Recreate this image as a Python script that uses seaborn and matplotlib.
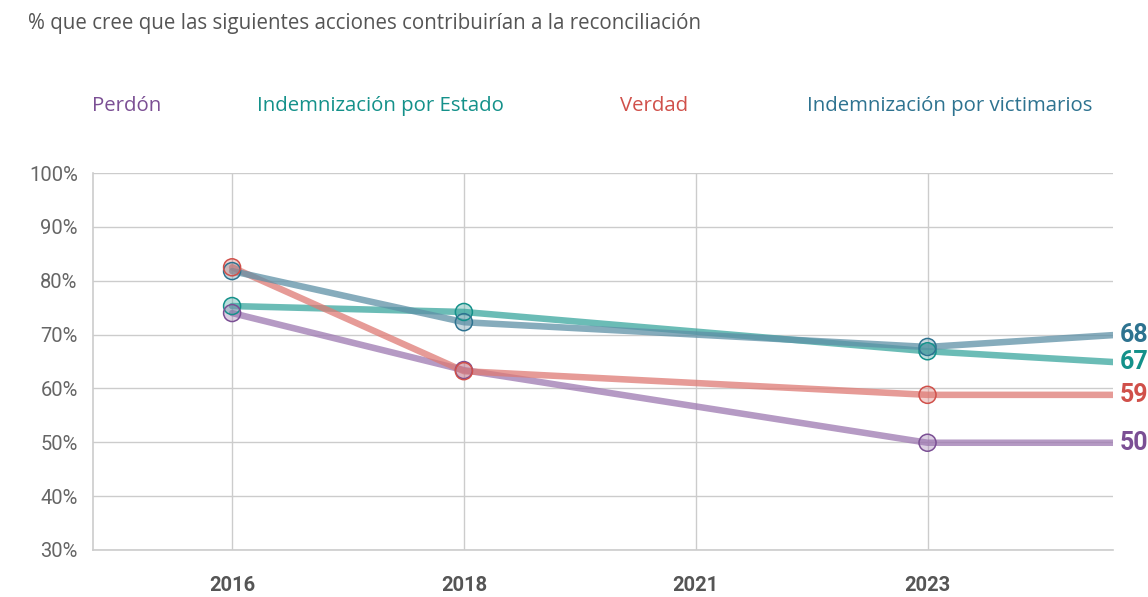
import pandas as pd
import matplotlib.pyplot as plt
import seaborn as sns

# posiciones: 2016, 2018, 2021, 2023 y el extremo derecho de la serie
years = ['2016', '2018', '2021', '2023']
pos = [0, 1, 3, 3.8]

perdon = [74.0, 63.4, 49.9, 49.9]
estado = [75.3, 74.2, 66.9, 64.9]
verdad = [82.5, 63.2, 58.8, 58.8]
victimarios = [81.8, 72.3, 67.7, 69.9]

end_labels = {'Perdón': '50', 'Indemnización por Estado': '67',
              'Verdad': '59', 'Indemnización por victimarios': '68'}

series = {'Perdón': perdon, 'Indemnización por Estado': estado,
          'Verdad': verdad, 'Indemnización por victimarios': victimarios}
line_col = {'Perdón': '#9d78b0', 'Indemnización por Estado': '#3aa69e',
            'Verdad': '#de7a74', 'Indemnización por victimarios': '#5e90a6'}
text_col = {'Perdón': '#7b4f94', 'Indemnización por Estado': '#14918a',
            'Verdad': '#d0504a', 'Indemnización por victimarios': '#2e7390'}

rows = []
for name, vals in series.items():
    for p, v in zip(pos, vals):
        rows.append({'serie': name, 'x': p, 'valor': v})
df = pd.DataFrame(rows)

sns.set_theme(style='white')
plt.rcParams['font.family'] = ['Open Sans', 'DejaVu Sans']

fig = plt.figure(figsize=(11.48, 5.97), dpi=100)
ax = fig.add_axes([0.081, 0.079, 0.8885, 0.631])

sns.lineplot(data=df, x='x', y='valor', hue='serie', palette=line_col,
             linewidth=4.7, alpha=0.75, legend=False, ax=ax, zorder=3)

# marcadores solo en los años con medición
mk = df[df['x'].isin([0, 1, 3])]
for name, g in mk.groupby('serie'):
    ax.scatter(g['x'], g['valor'], s=150, facecolor=line_col[name], alpha=0.35,
               edgecolor='none', zorder=4)
    ax.scatter(g['x'], g['valor'], s=150, facecolor='none',
               edgecolor=text_col[name], linewidth=1.1, zorder=5)

for name, vals in series.items():
    ax.text(3.8 + 0.03, vals[-1], end_labels[name], color=text_col[name],
            fontsize=18, fontweight='bold', va='center', ha='left',
            clip_on=False, family=['Roboto', 'DejaVu Sans'])

ax.set_xlim(-0.6, 3.8)
ax.set_ylim(30, 100)
ax.set_xticks([0, 1, 2, 3])
ax.set_xticklabels(years, fontsize=14.5, fontweight='bold', color='#555555',
                   family=['Roboto', 'DejaVu Sans'])
ax.set_yticks(range(30, 101, 10))
ax.set_yticklabels([f'{v}%' for v in range(30, 101, 10)], fontsize=14.5,
                   color='#666666', family=['Roboto', 'DejaVu Sans'])
ax.tick_params(axis='x', pad=19, length=0)
ax.tick_params(axis='y', pad=11, length=0)
ax.set_xlabel('')
ax.set_ylabel('')
ax.grid(True, color='#cccccc', linewidth=1)
for s in ['top', 'right']:
    ax.spines[s].set_visible(False)
for s in ['left', 'bottom']:
    ax.spines[s].set_color('#cccccc')
    ax.spines[s].set_linewidth(1.2)

fig.text(28 / 1148, 1 - 24 / 597,
         '% que cree que las siguientes acciones contribuirían a la reconciliación',
         fontsize=14.8, color='#555555', va='center', ha='left')

legend_x = {'Perdón': 92, 'Indemnización por Estado': 257,
            'Verdad': 620, 'Indemnización por victimarios': 807}
for name, x in legend_x.items():
    fig.text(x / 1148, 1 - 106 / 597, name, fontsize=14.7,
             color=text_col[name], va='center', ha='left')

plt.savefig('out.png', dpi=100)
